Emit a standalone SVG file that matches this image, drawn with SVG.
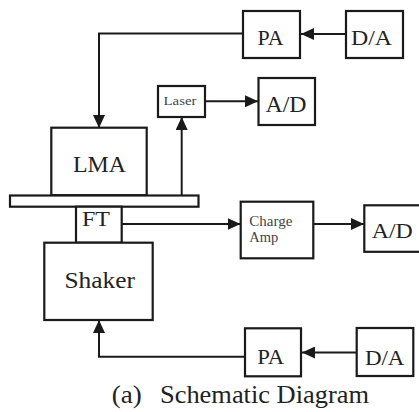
<svg xmlns="http://www.w3.org/2000/svg" width="419" height="412" viewBox="0 0 419 412">
<defs>
<style>
.box{fill:#fff;stroke:#1a1a1a;stroke-width:2.2}
.ln{fill:none;stroke:#1a1a1a;stroke-width:2}
text{font-family:'Liberation Serif','DejaVu Serif',serif}
.t{fill:#222;text-anchor:middle}
.s{fill:#444}
.c{fill:#222}
</style>
<marker id="ah" markerUnits="userSpaceOnUse" markerWidth="14" markerHeight="12" refX="13" refY="6" orient="auto">
<path d="M0,0 L13,6 L0,12 z" fill="#1a1a1a"/>
</marker>
</defs>
<rect width="419" height="412" fill="#fff"/>
<g id="connectors">
<line class="ln" x1="346" y1="34" x2="301" y2="34" marker-end="url(#ah)"/>
<path class="ln" d="M243,33.5 H99 V128" marker-end="url(#ah)"/>
<line class="ln" x1="205" y1="101.3" x2="258" y2="101.3" marker-end="url(#ah)"/>
<line class="ln" x1="181.7" y1="195.5" x2="181.7" y2="117" marker-end="url(#ah)"/>
<line class="ln" x1="122" y1="224" x2="240.5" y2="224" marker-end="url(#ah)"/>
<line class="ln" x1="314" y1="224" x2="364" y2="224" marker-end="url(#ah)"/>
<line class="ln" x1="357" y1="352.5" x2="302" y2="352.5" marker-end="url(#ah)"/>
<path class="ln" d="M245,356.7 H99 V320" marker-end="url(#ah)"/>
</g>
<g id="pa1"><rect class="box" x="243" y="11" width="57" height="47"/><text class="t" x="270.5" y="44.5" font-size="21" textLength="26" lengthAdjust="spacingAndGlyphs">PA</text></g>
<g id="da1"><rect class="box" x="346" y="11" width="57" height="47"/><text class="t" x="371.5" y="45" font-size="21" textLength="41" lengthAdjust="spacingAndGlyphs">D/A</text></g>
<g id="laser"><rect class="box" x="158" y="86" width="47" height="31"/><text class="s" x="163.5" y="105" font-size="13" textLength="33" lengthAdjust="spacingAndGlyphs">Laser</text></g>
<g id="ad1"><rect class="box" x="258.5" y="78" width="56.5" height="47"/><text class="t" x="286" y="111.7" font-size="24" textLength="41" lengthAdjust="spacingAndGlyphs">A/D</text></g>
<g id="lma"><rect class="box" x="51.3" y="127.7" width="95.4" height="67.5"/><text class="t" x="99.5" y="171.7" font-size="24" textLength="53" lengthAdjust="spacingAndGlyphs">LMA</text></g>
<g id="plate"><rect class="box" x="10" y="195.5" width="188.5" height="11.2"/></g>
<g id="ft"><rect class="box" x="76" y="206.7" width="45.7" height="36"/><text class="t" x="96" y="226" font-size="21" textLength="28" lengthAdjust="spacingAndGlyphs">FT</text></g>
<g id="shaker"><rect class="box" x="44.3" y="242.7" width="108.4" height="77.3"/><text class="t" x="99.7" y="288.3" font-size="24" textLength="70.5" lengthAdjust="spacingAndGlyphs">Shaker</text></g>
<g id="chargeamp"><rect class="box" x="240.7" y="201.7" width="72.6" height="56.6"/><text class="s" x="249.3" y="225.5" font-size="14.5" textLength="43" lengthAdjust="spacingAndGlyphs">Charge</text><text class="s" x="249.3" y="241.5" font-size="14.5" textLength="29" lengthAdjust="spacingAndGlyphs">Amp</text></g>
<g id="ad2"><rect class="box" x="364.3" y="205.3" width="70" height="46.5"/><text class="t" x="392.2" y="238.3" font-size="22" textLength="41" lengthAdjust="spacingAndGlyphs">A/D</text></g>
<g id="pa2"><rect class="box" x="245" y="328.3" width="56" height="48"/><text class="t" x="270.8" y="364" font-size="21" textLength="27" lengthAdjust="spacingAndGlyphs">PA</text></g>
<g id="da2"><rect class="box" x="356.7" y="328" width="56.6" height="48"/><text class="t" x="384.7" y="365" font-size="21" textLength="39.5" lengthAdjust="spacingAndGlyphs">D/A</text></g>
<g id="caption">
<text class="c" x="111.7" y="403.3" font-size="26" textLength="30" lengthAdjust="spacingAndGlyphs">(a)</text>
<text class="c" x="160" y="403.3" font-size="26" textLength="209" lengthAdjust="spacingAndGlyphs">Schematic Diagram</text>
</g>
</svg>
